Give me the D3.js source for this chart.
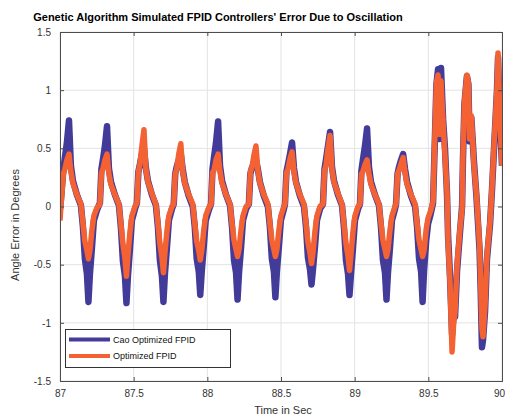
<!DOCTYPE html>
<html><head><meta charset="utf-8">
<script src="https://cdn.jsdelivr.net/npm/d3@7"></script>
<style>html,body{margin:0;padding:0;background:#fff;}svg{display:block;font-family:"Liberation Sans",Arial,sans-serif;}</style>
</head><body>
<svg id="chart" width="505" height="416"></svg>
<script>
const titleText = "Genetic Algorithm Simulated FPID Controllers' Error Due to Oscillation";
const xLabel = "Time in Sec";
const yLabel = "Angle Error in Degrees";
const seriesNames = ["Cao Optimized FPID", "Optimized FPID"];
const xTicks = [87, 87.5, 88, 88.5, 89, 89.5, 90];
const yTicks = [-1.5, -1, -0.5, 0, 0.5, 1, 1.5];

const time = [
 87.000, 87.006,
 87.023, 87.033, 87.047, 87.061, 87.074, 87.088, 87.115, 87.142, 87.156, 87.169, 87.183, 87.193, 87.203, 87.217, 87.230, 87.251,
 87.271, 87.281, 87.291, 87.305, 87.319, 87.332, 87.346, 87.373, 87.400, 87.414, 87.427, 87.441, 87.451, 87.461, 87.475, 87.488, 87.509,
 87.522, 87.532, 87.542, 87.556, 87.570, 87.583, 87.597, 87.624, 87.651, 87.665, 87.678, 87.692, 87.702, 87.712, 87.726, 87.739, 87.760,
 87.772, 87.782, 87.792, 87.806, 87.820, 87.833, 87.847, 87.874, 87.901, 87.915, 87.928, 87.942, 87.952, 87.962, 87.976, 87.989, 88.010,
 88.025, 88.035, 88.045, 88.059, 88.073, 88.086, 88.100, 88.127, 88.154, 88.168, 88.181, 88.195, 88.205, 88.215, 88.229, 88.242, 88.263,
 88.282, 88.292, 88.302, 88.316, 88.330, 88.343, 88.357, 88.384, 88.411, 88.425, 88.438, 88.452, 88.462, 88.472, 88.486, 88.499, 88.520,
 88.527, 88.537, 88.547, 88.561, 88.575, 88.588, 88.602, 88.629, 88.656, 88.670, 88.683, 88.697, 88.707, 88.717, 88.731, 88.744, 88.765,
 88.785, 88.795, 88.805, 88.819, 88.833, 88.846, 88.860, 88.887, 88.914, 88.928, 88.941, 88.955, 88.965, 88.975, 88.989, 89.002, 89.023,
 89.036, 89.046, 89.056, 89.070, 89.084, 89.097, 89.111, 89.138, 89.165, 89.179, 89.192, 89.206, 89.216, 89.226, 89.240, 89.253, 89.274,
 89.281, 89.291, 89.301, 89.315, 89.329, 89.342, 89.356, 89.383, 89.410, 89.424, 89.437, 89.451, 89.461,
 89.471, 89.485, 89.498, 89.515, 89.532, 89.545, 89.555, 89.566, 89.574, 89.586,
 89.600, 89.613, 89.627, 89.634, 89.647, 89.661, 89.672, 89.681, 89.695, 89.715,
 89.729, 89.735, 89.745, 89.762, 89.772, 89.780, 89.792, 89.810, 89.827, 89.848,
 89.856, 89.864, 89.871, 89.885, 89.898, 89.919, 89.932, 89.946, 89.966, 89.973,
 89.986, 90.000
];

const caoError = [
 -0.02, 0.05,
 0.32, 0.42, 0.55, 0.74, 0.35, 0.22, 0.10, 0.01, -0.18, -0.45, -0.58, -0.82, -0.58, -0.35, -0.12, -0.03,
 0.03, 0.32, 0.40, 0.52, 0.69, 0.33, 0.21, 0.10, 0.01, -0.19, -0.47, -0.60, -0.83, -0.60, -0.36, -0.12, -0.02,
 0.03, 0.30, 0.36, 0.45, 0.50, 0.33, 0.22, 0.10, 0.01, -0.18, -0.46, -0.60, -0.82, -0.58, -0.35, -0.12, -0.02,
 0.02, 0.28, 0.34, 0.40, 0.45, 0.32, 0.21, 0.09, 0.00, -0.18, -0.45, -0.56, -0.76, -0.56, -0.34, -0.12, -0.03,
 0.02, 0.32, 0.42, 0.55, 0.73, 0.35, 0.22, 0.10, 0.01, -0.18, -0.46, -0.57, -0.80, -0.57, -0.35, -0.12, -0.02,
 0.02, 0.28, 0.33, 0.37, 0.40, 0.32, 0.21, 0.09, 0.00, -0.18, -0.45, -0.56, -0.78, -0.56, -0.34, -0.12, -0.02,
 0.02, 0.30, 0.36, 0.45, 0.55, 0.33, 0.21, 0.09, 0.00, -0.18, -0.44, -0.54, -0.67, -0.54, -0.34, -0.12, -0.02,
 0.02, 0.32, 0.40, 0.52, 0.64, 0.34, 0.22, 0.10, 0.01, -0.19, -0.46, -0.58, -0.76, -0.58, -0.35, -0.12, -0.02,
 0.02, 0.31, 0.40, 0.52, 0.67, 0.34, 0.21, 0.10, 0.01, -0.18, -0.46, -0.57, -0.80, -0.57, -0.35, -0.12, -0.02,
 0.02, 0.28, 0.34, 0.40, 0.45, 0.32, 0.21, 0.09, 0.00, -0.18, -0.45, -0.56, -0.82,
 -0.55, -0.30, -0.15, -0.07, 0.03, 0.60, 1.05, 1.18, 0.58, 1.19,
 0.75, 0.50, 0.10, -0.25, -0.60, -1.10, -0.92, -0.95, -0.55, -0.22,
 0.00, 0.40, 0.88, 1.12, 1.05, 0.56, 0.76, 0.38, 0.08, -0.38,
 -0.75, -1.21, -1.15, -0.90, -0.45, -0.15, 0.14, 0.50, 1.00, 1.28,
 0.75, 0.35
];

const optError = [
 -0.12, 0.00,
 0.28, 0.32, 0.40, 0.45, 0.30, 0.20, 0.10, 0.02, -0.15, -0.30, -0.38, -0.45, -0.38, -0.20, -0.08, -0.01,
 0.02, 0.29, 0.32, 0.40, 0.45, 0.28, 0.19, 0.10, 0.02, -0.16, -0.32, -0.45, -0.60, -0.42, -0.22, -0.08, 0.00,
 0.03, 0.30, 0.36, 0.52, 0.66, 0.32, 0.21, 0.11, 0.02, -0.15, -0.32, -0.44, -0.57, -0.40, -0.21, -0.08, 0.00,
 0.02, 0.28, 0.32, 0.45, 0.54, 0.30, 0.20, 0.10, 0.02, -0.15, -0.30, -0.38, -0.46, -0.38, -0.20, -0.08, -0.01,
 0.02, 0.29, 0.31, 0.40, 0.45, 0.30, 0.20, 0.10, 0.02, -0.15, -0.29, -0.37, -0.43, -0.37, -0.20, -0.08, 0.00,
 0.02, 0.30, 0.33, 0.44, 0.52, 0.31, 0.20, 0.10, 0.02, -0.15, -0.29, -0.37, -0.43, -0.37, -0.20, -0.08, 0.00,
 0.02, 0.29, 0.32, 0.41, 0.47, 0.30, 0.20, 0.10, 0.02, -0.15, -0.31, -0.40, -0.49, -0.40, -0.21, -0.08, 0.00,
 0.02, 0.31, 0.35, 0.50, 0.61, 0.32, 0.21, 0.11, 0.02, -0.16, -0.32, -0.43, -0.55, -0.41, -0.21, -0.08, 0.00,
 0.02, 0.28, 0.30, 0.36, 0.40, 0.28, 0.19, 0.10, 0.02, -0.15, -0.29, -0.37, -0.43, -0.37, -0.20, -0.08, 0.00,
 0.02, 0.28, 0.31, 0.37, 0.42, 0.29, 0.19, 0.10, 0.02, -0.15, -0.29, -0.37, -0.43,
 -0.38, -0.20, -0.10, -0.04, 0.04, 0.64, 1.07, 1.13, 0.62, 1.08,
 0.72, 0.44, 0.12, -0.30, -0.65, -1.25, -1.00, -0.91, -0.50, -0.19,
 -0.02, 0.44, 0.90, 1.13, 1.07, 0.58, 0.78, 0.35, 0.10, -0.34,
 -0.70, -1.05, -1.12, -0.85, -0.42, -0.13, 0.16, 0.53, 1.02, 1.32,
 0.74, 0.35
];

const colors = ["#423b9a", "#f46133"];

const svg = d3.select("#chart");
const L = 60, R = 502, T = 32, B = 381;
const x = d3.scaleLinear().domain([87, 90]).range([L, R]);
const y = d3.scaleLinear().domain([-1.5, 1.5]).range([B, T]);

// grid
const grid = svg.append("g");
grid.selectAll(".gx").data(xTicks).join("line")
  .attr("x1", d => x(d)).attr("x2", d => x(d)).attr("y1", T).attr("y2", B)
  .attr("stroke", "#e3e3e3").attr("stroke-width", 1);
grid.selectAll(".gy").data(yTicks).join("line")
  .attr("x1", L).attr("x2", R).attr("y1", d => y(d)).attr("y2", d => y(d))
  .attr("stroke", "#e3e3e3").attr("stroke-width", 1);

// lines
svg.append("clipPath").attr("id", "clip").append("rect")
  .attr("x", L).attr("y", T).attr("width", R - L).attr("height", B - T);
const n = Math.min(time.length, caoError.length, optError.length);
const pts = (vals) => time.slice(0, n).map((t, i) => [t, vals[i]]);
const line = d3.line().x(d => x(d[0])).y(d => y(d[1]));
const plot = svg.append("g").attr("clip-path", "url(#clip)");
[caoError, optError].forEach((vals, i) => {
  plot.append("path").datum(pts(vals))
    .attr("d", line).attr("fill", "none")
    .attr("stroke", colors[i]).attr("stroke-width", i === 0 ? 6.5 : 5.5)
    .attr("stroke-linejoin", "round").attr("stroke-linecap", "butt");
});

// axes (MATLAB style box, ticks inside)
const axCol = "#4d4d4d";
const fmt = d => String(d);
const gB = svg.append("g").attr("transform", `translate(0,${B})`)
  .call(d3.axisBottom(x).tickValues(xTicks).tickFormat(fmt).tickSize(-4).tickPadding(9));
gB.selectAll(".tick text").filter(d => d === 90).attr("dx", -3);
const gT = svg.append("g").attr("transform", `translate(0,${T})`)
  .call(d3.axisTop(x).tickValues(xTicks).tickFormat("").tickSize(-4));
const gL = svg.append("g").attr("transform", `translate(${L},0)`)
  .call(d3.axisLeft(y).tickValues(yTicks).tickFormat(fmt).tickSize(-4).tickPadding(9));
const gR = svg.append("g").attr("transform", `translate(${R},0)`)
  .call(d3.axisRight(y).tickValues(yTicks).tickFormat("").tickSize(-4));
[gB, gT, gL, gR].forEach(g => {
  g.select(".domain").attr("stroke", axCol).attr("stroke-width", 1);
  g.selectAll(".tick line").attr("stroke", axCol);
  g.selectAll("text").attr("fill", "#333").style("font-size", "10px")
    .style("font-family", "'Liberation Sans', Arial, sans-serif");
});

// title and labels
svg.append("text").attr("x", 218).attr("y", 21).attr("text-anchor", "middle")
  .style("font-size", "11px").style("font-weight", "bold").attr("fill", "#000").text(titleText);
svg.append("text").attr("x", 283).attr("y", 414).attr("text-anchor", "middle")
  .style("font-size", "11px").attr("fill", "#333").text(xLabel);
svg.append("text").attr("transform", "translate(19,225) rotate(-90)").attr("text-anchor", "middle")
  .style("font-size", "11px").attr("fill", "#333").text(yLabel);

// legend
const lg = svg.append("g");
lg.append("rect").attr("x", 65.5).attr("y", 329.5).attr("width", 165).attr("height", 38)
  .attr("fill", "#fff").attr("stroke", "#333").attr("stroke-width", 1);
seriesNames.forEach((name, i) => {
  const yy = 339.5 + i * 16.5;
  lg.append("line").attr("x1", 69).attr("x2", 110).attr("y1", yy).attr("y2", yy)
    .attr("stroke", colors[i]).attr("stroke-width", 4);
  lg.append("text").attr("x", 113).attr("y", yy + 3.2).style("font-size", "9px")
    .attr("fill", "#111").text(name);
});
</script>
</body></html>
